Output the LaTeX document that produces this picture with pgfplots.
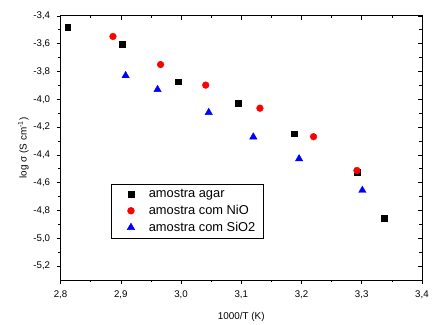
\documentclass[border=0pt]{standalone}
\usepackage{pgfplots}
\pgfplotsset{compat=1.18}
\usepackage{fontspec}
\setmainfont{Liberation Sans}
\begin{document}
\begin{tikzpicture}
\pgfplotsset{
  commonax/.style={
    scale only axis, width=364bp, height=266bp,
    at={(0,0)}, anchor=south west,
    xmin=2.8, xmax=3.4, ymin=-5.3, ymax=-3.4,
    xtick={2.8,2.9,3.0,3.1,3.2,3.3,3.4},
    ytick={-5.2,-5.0,-4.8,-4.6,-4.4,-4.2,-4.0,-3.8,-3.6,-3.4},
    minor x tick num=1, minor y tick num=1,
    major tick length=4bp, minor tick length=2.5bp,
    axis line style={line width=0.8pt},
    every tick/.style={black, line width=0.6pt},
    /pgf/number format/.cd, assume math mode=true, use comma, fixed, fixed zerofill, precision=1, 1000 sep={},
  }
}
\begin{axis}[commonax,
  xtick pos=bottom, ytick pos=left, tick align=outside,
  tick label style={font=\fontsize{9.8}{11}\selectfont},
  yticklabel style={xshift=-3bp},
  xticklabel style={yshift=-3bp},
  xlabel={1000/T (K)},
  ylabel={log σ (S cm\textsuperscript{-1})},
  label style={font=\fontsize{10}{12}\selectfont},
  xlabel style={yshift=-7bp},
  ylabel style={yshift=-2bp},
  legend style={at={(0.139,0.362)}, anchor=north west, draw=black, line width=0.6pt,
    font=\fontsize{13}{16}\selectfont, inner xsep=6bp, inner ysep=3bp,
    row sep=2bp,
    cells={anchor=west}},
  legend image code/.code={\path[draw=none,fill=none] (0bp,-3bp) (30bp,3bp);
    \draw[mark repeat=2,mark phase=2] plot coordinates {(0bp,0bp)(14bp,0bp)(28bp,0bp)};},
]
\addplot[only marks, mark=square*, mark size=2.9bp, color=black] coordinates {
(2.812,-3.479)(2.902,-3.602)(2.995,-3.874)(3.095,-4.026)(3.188,-4.248)(3.293,-4.524)(3.337,-4.853)};
\addlegendentry{amostra agar}
\addplot[only marks, mark=*, mark size=3.4bp, color=red] coordinates {
(2.887,-3.548)(2.966,-3.750)(3.041,-3.898)(3.131,-4.064)(3.220,-4.269)(3.292,-4.512)};
\addlegendentry{amostra com NiO}
\addplot[only marks, mark=triangle*, mark size=4.3bp, color=blue] coordinates {
(2.908,-3.830)(2.961,-3.930)(3.046,-4.095)(3.120,-4.271)(3.196,-4.428)(3.301,-4.655)};
\addlegendentry{amostra com SiO2}
\end{axis}
\begin{axis}[commonax,
  xtick pos=top, ytick pos=right, tick align=inside,
  xticklabels={}, yticklabels={},
]
\end{axis}
\path (-61bp,-40bp) rectangle (371bp,282bp);
\end{tikzpicture}
\end{document}
